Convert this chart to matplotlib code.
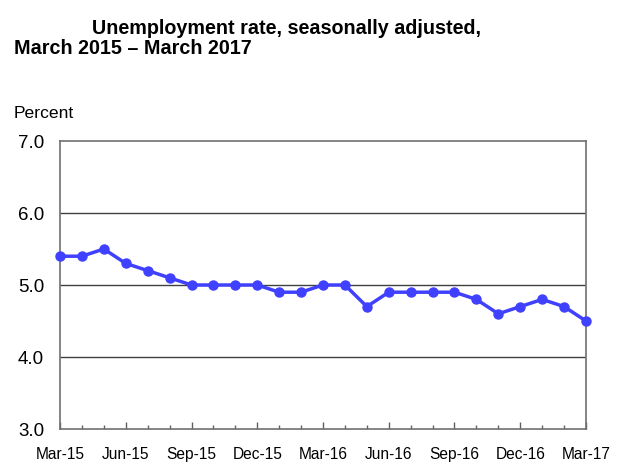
import matplotlib.pyplot as plt
import numpy as np

months = ['Mar-15', 'Apr-15', 'May-15', 'Jun-15', 'Jul-15', 'Aug-15', 'Sep-15', 'Oct-15',
          'Nov-15', 'Dec-15', 'Jan-16', 'Feb-16', 'Mar-16', 'Apr-16', 'May-16', 'Jun-16',
          'Jul-16', 'Aug-16', 'Sep-16', 'Oct-16', 'Nov-16', 'Dec-16', 'Jan-17', 'Feb-17', 'Mar-17']
rate = [5.4, 5.4, 5.5, 5.3, 5.2, 5.1, 5.0, 5.0, 5.0, 5.0, 4.9, 4.9, 5.0,
        5.0, 4.7, 4.9, 4.9, 4.9, 4.9, 4.8, 4.6, 4.7, 4.8, 4.7, 4.5]
y_ticks = [3.0, 4.0, 5.0, 6.0, 7.0]

plt.rcParams['font.family'] = ['Liberation Sans', 'DejaVu Sans']

fig = plt.figure(figsize=(6.2, 4.77), dpi=100)
ax = fig.add_axes([60 / 620, 1 - 430 / 477, 526 / 620, 288 / 477])

x = np.arange(len(months))
ax.plot(x, rate, color='#4040ff', lw=2.5, marker='o', ms=6.5, zorder=3, clip_on=False)

ax.set_xlim(0, len(months) - 1)
ax.set_ylim(3.0, 7.0)
ax.set_yticks(y_ticks)
ax.set_yticklabels([f'{v:.1f}' for v in y_ticks], fontsize=13.5)
for v in y_ticks[1:-1]:
    ax.axhline(v, color='#404040', lw=1, zorder=1)

# quarterly labels, monthly minor ticks
ax.set_xticks(x[::3])
ax.set_xticklabels(months[::3], fontsize=11.2)
ax.set_xticks(x, minor=True)
ax.tick_params(axis='x', which='major', direction='in', length=5, width=1, color='#606060', pad=12)
ax.tick_params(axis='x', which='minor', direction='in', length=3, width=1, color='#606060')
ax.tick_params(axis='y', length=0, pad=11.5)
for s in ax.spines.values():
    s.set_color('#707070')
    s.set_linewidth(1.2)

fig.text(92 / 620, 1 - 28 / 477, 'Unemployment rate, seasonally adjusted,',
         fontsize=14.2, fontweight='bold', va='center')
fig.text(14 / 620, 1 - 48 / 477, 'March 2015 \u2013 March 2017',
         fontsize=14.2, fontweight='bold', va='center')
fig.text(14 / 620, 1 - 113 / 477, 'Percent', fontsize=12.6, va='center')

plt.savefig('out.png', dpi=100)
